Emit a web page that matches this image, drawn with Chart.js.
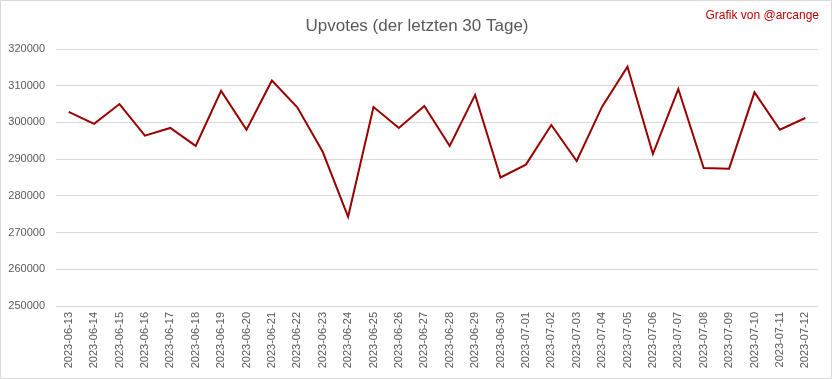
<!DOCTYPE html>
<html>
<head>
<meta charset="utf-8">
<script src="https://cdn.jsdelivr.net/npm/chart.js@4/dist/chart.umd.min.js"></script>
<style>
html,body{margin:0;padding:0;background:#fff;}
#wrap{position:relative;width:832px;height:379px;}
</style>
</head>
<body>
<div id="wrap"><canvas id="c" width="832" height="379"></canvas></div>
<script>
const categories = ["2023-06-13","2023-06-14","2023-06-15","2023-06-16","2023-06-17","2023-06-18","2023-06-19","2023-06-20","2023-06-21","2023-06-22","2023-06-23","2023-06-24","2023-06-25","2023-06-26","2023-06-27","2023-06-28","2023-06-29","2023-06-30","2023-07-01","2023-07-02","2023-07-03","2023-07-04","2023-07-05","2023-07-06","2023-07-07","2023-07-08","2023-07-09","2023-07-10","2023-07-11","2023-07-12"];
const upvotes = [302900,299600,305000,296400,298500,293600,308600,298000,311400,304100,292000,274300,304200,298500,304500,293600,307500,285000,288500,299300,289500,304300,315200,291400,309100,287600,287400,308200,298000,301200];
const yTicks = [250000,260000,270000,280000,290000,300000,310000,320000];
const titleText = "Upvotes (der letzten 30 Tage)";
const creditText = "Grafik von @arcange";

const FONT = "'Liberation Sans', Arial, sans-serif";

const decor = {
  id: 'decor',
  afterDraw(chart) {
    const ctx = chart.ctx;
    ctx.save();
    ctx.strokeStyle = '#d9d9d9';
    ctx.lineWidth = 1;
    ctx.strokeRect(0.5, 0.5, chart.width - 1, chart.height - 1);
    ctx.fillStyle = '#595959';
    ctx.font = "17px " + FONT;
    ctx.textAlign = 'center';
    ctx.textBaseline = 'alphabetic';
    ctx.fillText(titleText, 417, 31);
    ctx.fillStyle = '#c00000';
    ctx.font = "12px " + FONT;
    ctx.textAlign = 'right';
    ctx.fillText(creditText, 819, 19);
    ctx.restore();
  }
};

new Chart(document.getElementById('c'), {
  type: 'line',
  data: {
    labels: categories,
    datasets: [{
      data: upvotes,
      borderColor: '#990000',
      borderWidth: 2,
      pointRadius: 0,
      pointHoverRadius: 0,
      tension: 0,
      fill: false
    }]
  },
  options: {
    responsive: false,
    animation: false,
    devicePixelRatio: 1,
    layout: { padding: { top: 49, right: 14, left: 0, bottom: 0 } },
    plugins: { legend: { display: false }, title: { display: false }, tooltip: { enabled: false } },
    scales: {
      x: {
        offset: true,
        grid: { display: false, drawTicks: false },
        border: { display: false },
        ticks: {
          color: '#595959',
          font: { family: FONT, size: 11 },
          minRotation: 90,
          maxRotation: 90,
          autoSkip: false,
          padding: 6
        },
        afterFit(s) { s.height = 73; }
      },
      y: {
        min: 250000,
        max: 320000,
        afterBuildTicks(s) { s.ticks = yTicks.map(v => ({ value: v })); },
        grid: { color: '#d9d9d9', lineWidth: 1, drawTicks: false },
        border: { display: false },
        ticks: {
          color: '#595959',
          font: { family: FONT, size: 11 },
          padding: 11,
          callback: v => String(v)
        },
        afterFit(s) { s.width = 56; }
      }
    }
  },
  plugins: [decor]
});
</script>
</body>
</html>
